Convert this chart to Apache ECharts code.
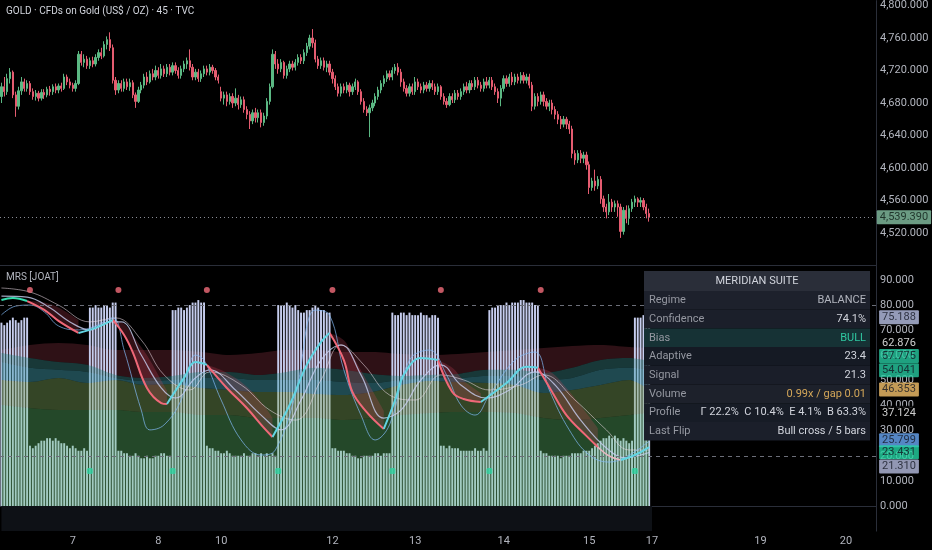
<!DOCTYPE html>
<html><head><meta charset="utf-8">
<script src="https://cdn.jsdelivr.net/npm/echarts@6/dist/echarts.min.js"></script>
<style>html,body{margin:0;padding:0;background:#000;}#c{width:932px;height:550px;}</style>
</head><body><div id="c"></div>
<script>
// ---------- DATA ----------
const titleText = 'GOLD · CFDs on Gold (US$ / OZ) · 45 · TVC';
const paneTitle = 'MRS [JOAT]';
const totalSlots = 307;
const dayLabels = ['7','8','10','12','13','14','15','17','19','20'];
const dayBars = [25,55,77,116,145,176,206,228,266,296];

// [open, close, low, high]
const candles = [
[4688,4700,4680,4705],[4700,4694,4688,4712],[4694,4710,4690,4716],[4710,4718,4704,4723],[4718,4690,4686,4720],
[4690,4676,4663,4694],[4676,4695,4672,4700],[4695,4706,4690,4712],[4706,4698,4694,4710],[4698,4704,4694,4708],
[4704,4694,4690,4707],[4694,4688,4684,4698],[4688,4692,4683,4696],[4692,4686,4682,4695],[4686,4693,4683,4697],
[4693,4690,4685,4697],[4690,4697,4687,4700],[4697,4694,4689,4701],[4694,4700,4690,4703],[4700,4696,4692,4704],
[4696,4701,4692,4704],[4701,4698,4694,4705],[4698,4712,4696,4716],[4712,4706,4702,4715],[4706,4702,4698,4710],
[4702,4698,4694,4705],[4698,4704,4694,4708],[4704,4740,4702,4744],[4740,4730,4726,4744],[4730,4734,4724,4740],
[4734,4726,4722,4738],[4726,4732,4722,4736],[4732,4728,4724,4737],[4728,4736,4725,4740],[4736,4742,4732,4746],
[4742,4738,4734,4748],[4738,4752,4736,4756],[4752,4758,4746,4762],[4758,4748,4744,4767],[4748,4708,4704,4752],
[4708,4696,4690,4712],[4696,4704,4692,4708],[4704,4698,4694,4708],[4698,4706,4694,4710],[4706,4700,4696,4710],
[4700,4705,4695,4710],[4705,4690,4686,4708],[4690,4682,4674,4693],[4682,4696,4680,4700],[4696,4702,4692,4706],
[4702,4712,4698,4716],[4712,4706,4702,4718],[4706,4716,4704,4720],[4716,4712,4708,4722],[4712,4720,4708,4726],
[4720,4714,4710,4724],[4714,4722,4710,4728],[4722,4716,4712,4726],[4716,4724,4712,4728],[4724,4718,4714,4728],
[4718,4726,4714,4730],[4726,4720,4716,4730],[4720,4714,4710,4724],[4714,4722,4710,4726],[4722,4728,4718,4732],
[4728,4732,4722,4736],[4732,4724,4720,4746],[4724,4712,4708,4728],[4712,4718,4708,4722],[4718,4710,4706,4722],
[4710,4716,4706,4720],[4716,4722,4712,4726],[4722,4718,4714,4726],[4718,4724,4714,4728],[4724,4720,4716,4727],
[4720,4712,4708,4723],[4712,4708,4704,4715],[4694,4686,4682,4700],[4686,4690,4678,4694],[4690,4682,4676,4694],
[4682,4688,4678,4692],[4688,4680,4674,4692],[4680,4686,4676,4698],[4686,4678,4672,4690],[4678,4684,4674,4688],
[4684,4672,4668,4688],[4672,4666,4660,4676],[4666,4658,4648,4670],[4658,4668,4654,4672],[4668,4662,4656,4674],
[4662,4668,4656,4672],[4668,4656,4650,4672],[4656,4664,4652,4668],[4664,4682,4660,4686],[4682,4700,4678,4704],
[4700,4740,4698,4746],[4740,4728,4722,4744],[4728,4722,4716,4734],[4722,4730,4718,4734],[4730,4714,4710,4732],
[4714,4722,4710,4726],[4722,4728,4718,4732],[4728,4724,4720,4732],[4724,4730,4720,4734],[4730,4736,4726,4740],
[4736,4732,4728,4740],[4732,4742,4728,4746],[4742,4750,4738,4754],[4750,4760,4746,4764],[4760,4754,4748,4771],
[4754,4734,4730,4758],[4734,4726,4722,4738],[4726,4732,4722,4736],[4732,4724,4720,4736],[4724,4728,4718,4732],
[4728,4718,4714,4732],[4718,4710,4704,4722],[4710,4700,4696,4714],[4700,4692,4688,4704],[4692,4700,4688,4704],
[4700,4696,4692,4704],[4696,4702,4692,4706],[4702,4694,4688,4705],[4694,4700,4690,4704],[4700,4706,4696,4710],
[4706,4694,4690,4708],[4694,4682,4678,4697],[4682,4672,4668,4686],[4672,4668,4664,4676],[4668,4674,4638,4678],
[4674,4680,4670,4684],[4680,4688,4676,4692],[4688,4696,4684,4700],[4696,4704,4692,4708],[4704,4710,4700,4714],
[4710,4716,4706,4720],[4716,4712,4708,4720],[4712,4720,4708,4724],[4720,4724,4716,4728],[4724,4718,4714,4729],
[4718,4706,4700,4722],[4706,4698,4694,4710],[4698,4692,4688,4702],[4692,4700,4688,4704],[4700,4694,4690,4704],
[4694,4706,4690,4712],[4706,4700,4696,4710],[4700,4696,4692,4704],[4696,4702,4692,4706],[4702,4698,4694,4706],
[4698,4704,4694,4708],[4704,4700,4696,4708],[4700,4694,4690,4704],[4694,4700,4690,4704],[4700,4688,4684,4702],
[4688,4682,4678,4692],[4682,4678,4674,4686],[4678,4688,4676,4692],[4688,4684,4680,4692],[4684,4692,4680,4696],
[4692,4688,4684,4696],[4688,4694,4684,4698],[4694,4700,4690,4704],[4700,4696,4692,4706],[4696,4704,4692,4708],
[4704,4700,4696,4708],[4700,4708,4696,4712],[4708,4702,4698,4712],[4702,4698,4694,4706],[4698,4706,4694,4710],
[4706,4702,4698,4712],[4702,4708,4698,4712],[4708,4700,4696,4712],[4700,4694,4690,4704],[4694,4686,4680,4698],
[4686,4698,4676,4702],[4698,4710,4694,4714],[4710,4704,4700,4714],[4704,4712,4700,4716],[4712,4706,4702,4718],
[4706,4712,4702,4716],[4712,4708,4704,4716],[4708,4714,4704,4718],[4714,4708,4704,4718],[4708,4712,4704,4716],
[4712,4702,4698,4716],[4702,4676,4670,4706],[4676,4688,4672,4692],[4688,4682,4676,4692],[4682,4690,4678,4694],
[4690,4682,4676,4694],[4682,4676,4672,4686],[4676,4680,4670,4684],[4680,4672,4666,4684],[4672,4666,4660,4676],
[4666,4660,4654,4670],[4660,4654,4648,4664],[4654,4660,4650,4664],[4660,4654,4648,4663],[4654,4648,4642,4658],
[4648,4618,4612,4652],[4618,4610,4604,4622],[4610,4618,4606,4622],[4618,4612,4606,4622],[4612,4616,4606,4620],
[4616,4604,4598,4620],[4604,4576,4568,4608],[4576,4584,4572,4588],[4584,4578,4572,4598],[4578,4586,4574,4590],
[4586,4562,4556,4590],[4562,4552,4546,4566],[4552,4546,4538,4556],[4546,4558,4542,4568],[4558,4552,4546,4562],
[4552,4556,4546,4560],[4556,4552,4540,4560],[4552,4522,4514,4556],[4522,4548,4518,4552],[4548,4538,4532,4554],
[4538,4550,4530,4554],[4550,4558,4546,4562],[4558,4562,4552,4566],[4562,4558,4552,4564],[4558,4560,4552,4564],
[4560,4552,4548,4563],[4552,4544,4538,4556],[4544,4539.39,4534,4550]
];
const lastPrice = 4539.39;

const histogram = [
73,72,73,74,75,74,73,74,75,75,
24,23,24,25,26,26,27,27,26,27,26,25,25,24,23,24,23,22,22,23,22,
79,79,80,79,79,80,80,79,81,81,
22,22,21,21,20,20,21,20,19,19,20,19,19,20,20,21,21,20,20,
78,78,79,79,78,79,80,81,81,82,81,81,
24,23,23,22,22,21,21,22,21,20,20,20,20,21,20,20,21,21,20,21,20,21,20,21,20,
80,80,80,81,80,79,80,78,77,77,78,78,79,80,79,78,78,77,77,
23,23,22,22,22,21,21,20,20,19,19,20,20,20,20,21,21,20,21,21,21,
77,76,76,77,77,76,77,76,76,76,77,76,76,75,76,76,75,
24,24,23,24,23,23,23,22,22,22,22,22,23,22,22,23,22,
78,79,79,80,80,80,81,80,81,81,81,82,82,81,81,81,80,80,
22,21,21,20,20,20,20,19,20,20,20,21,21,21,21,22,22,22,23,24,25,26,27,27,28,27,28,27,26,27,26,25,26,
75,75,75,76,75,75.188
];
// the oscillator pane's floor strip below zero spans the data bars
const floorStrip = [[0,-10],[228,-10]];

// band boundaries (value units) sampled at bar indices
const bandX  = [0,10,20,30,40,50,60,70,80,90,100,110,120,130,140,150,160,170,180,190,200,210,220,227];
const bandB1 = [40.2,39.0,38.2,38.2,38.2,37.4,37.4,36.2,36.2,35.0,35.0,35.0,34.2,35.0,36.2,37.0,37.4,37.4,37.0,35.0,34.2,35.0,36.2,37.124];
const bandB2 = [50.2,49.4,51.0,49.0,50.2,48.2,48.6,47.0,46.2,45.4,45.4,44.6,44.2,45.4,48.2,49.8,49.4,49.0,48.2,45.0,46.2,48.2,50.2,46.353];
const bandB3 = [57.3,55.0,54.2,53.4,51.0,49.8,50.2,51.0,51.0,50.2,50.2,50.2,49.4,49.0,50.2,51.0,51.0,51.8,51.8,50.2,51.0,54.2,55.0,54.041];
const bandB4 = [60.9,58.9,57.3,56.2,52.2,51.0,51.8,53.4,53.4,52.2,53.4,55.0,54.2,52.6,51.8,52.2,52.6,54.2,54.2,53.0,55.0,58.1,58.9,57.775];
const bandB5 = [62.1,64.1,64.9,64.1,62.1,62.1,62.1,61.3,60.1,60.9,62.1,62.1,61.3,61.3,60.5,60.1,60.5,61.3,62.1,62.9,63.7,64.1,63.3,62.876];

// adaptive line segments [barIndex, value]
const adaptiveBull = [
 [[0,82.0],[4,82.8],[9,81.6]],
 [[27,68.9],[33,70.9],[39,74.1]],
 [[58,40.6],[64,51.0],[68,57.3],[72,56.2]],
 [[95,27.5],[101,40.2],[107,56.2],[112,65.3],[115,68.9]],
 [[134,30.7],[138,42.2],[141,52.2],[147,58.9],[153,58.1]],
 [[168,41.4],[177,49.0],[184,55.4],[188,55.0]],
 [[217,18.3],[222,20.3],[227,23.431]]
];
const adaptiveBear = [
 [[9,81.6],[15,78.1],[20,73.7],[27,68.9]],
 [[39,74.1],[43,68.1],[46,61.3],[51,47.0],[56,41.0],[58,40.6]],
 [[72,56.2],[79,47.0],[86,39.0],[92,31.1],[95,27.5]],
 [[115,68.9],[120,58.1],[123,45.4],[128,37.4],[134,30.7]],
 [[153,58.1],[158,45.4],[162,42.6],[168,41.4]],
 [[188,55.0],[193,45.4],[198,36.2],[205,27.9],[209,23.5]]
];
// upper edge of the bearish cloud, at the same bars as adaptiveBear
const bearCloudTop = [
 [81.6,81.0,79.0,74.0],
 [74.1,72.5,68.0,60.0,50.0,46.0],
 [56.2,53.0,47.5,40.0,35.0],
 [68.9,66.0,60.0,50.0,38.0],
 [58.1,55.0,50.0,45.0],
 [55.0,53.0,47.0,37.0,31.0]
];
const adaptiveNeutral = [[[209,23.5],[213,19.9],[217,18.3]]];

const signalLine = [[0,83.6],[9,83.2],[17,78.9],[24,73.3],[31,70.1],[38,73.3],[42,73.3],[49,60.1],[56,47.0],[61,43.0],[68,51.0],[73,54.2],[82,46.2],[91,36.2],[98,30.3],[105,42.2],[112,58.1],[119,64.1],[126,52.2],[134,35.0],[140,38.2],[147,50.2],[154,56.2],[161,48.2],[170,43.0],[178,46.2],[187,53.4],[194,48.2],[203,34.2],[212,23.1],[219,19.1],[224,20.3],[227,21.31]];
const fastLine = [[0,76.1],[5,79.6],[10,80.0],[15,77.3],[20,71.7],[27,70.1],[33,71.7],[39,74.9],[43,62.1],[49,38.2],[52,30.3],[57,32.3],[63,42.2],[68,60.1],[71,58.1],[77,42.2],[84,26.3],[91,20.3],[96,22.3],[103,44.2],[110,78.0],[115,76.0],[120,54.2],[126,36.2],[131,26.3],[136,32.3],[143,58.1],[150,62.1],[156,52.2],[161,40.2],[166,36.2],[171,44.2],[180,58.1],[187,61.3],[192,46.2],[199,30.3],[206,20.3],[213,17.5],[220,20.3],[227,25.799]];
const slowLine = [[0,86.8],[10,85.2],[20,80.0],[31,73.3],[40,74.9],[49,66.1],[57,52.2],[66,46.2],[73,53.4],[84,48.2],[94,38.2],[103,34.2],[112,50.2],[119,64.1],[127,56.2],[136,44.2],[145,42.2],[154,52.2],[162,50.2],[171,46.2],[182,48.2],[190,52.2],[201,42.2],[212,30.3],[220,22.3],[227,22.3]];

const bearDots = [10,41,72,116,154,189];
const bearDotLevel = 86;
const bullDots = [31,60,97,137,171,222];
const bullDotLevel = 13.9;
const levelLines = [80, 20];

const lastValues = [75.188, 62.876, 57.775, 54.041, 46.353, 37.124, 25.799, 23.431, 21.310];

const tableTitle = 'MERIDIAN SUITE';
const tableLabels = ['Regime','Confidence','Bias','Adaptive','Signal','Volume','Profile','Last Flip'];
const tableValues = ['BALANCE','74.1%','BULL','23.4','21.3','0.99x / gap 0.01','Γ 22.2%  C 10.4%  E 4.1%  B 63.3%','Bull cross / 5 bars'];

// ---------- STYLES ----------
const UP = '#5bb883', DOWN = '#e55c70';
const tagStyles = [
 {bg:'#b9c2e6', fg:'#131722', dy:0},
 {bg:'#000000', fg:'#ffffff', dy:-5},
 {bg:'#27c9a0', fg:'#131722', dy:-5},
 {bg:'#27c9a0', fg:'#131722', dy:0},
 {bg:'#f5c26b', fg:'#131722', dy:0},
 {bg:'#000000', fg:'#ffffff', dy:0},
 {bg:'#6aa8f5', fg:'#131722', dy:-1},
 {bg:'#24d3a2', fg:'#131722', dy:5},
 {bg:'#b6bde0', fg:'#131722', dy:14}
];
const bandColors = ['rgba(100,200,115,0.36)','rgba(125,165,90,0.42)','rgba(68,159,175,0.46)','rgba(60,140,140,0.40)','rgba(135,50,65,0.34)'];
const bandZ = [3,3,3,3,1];
const rowFills = ['#1d212c','#1b1f2a','#163235','#151a24','#1a1e29','#1d212b','#171c26','#1b1f2a'];
const valueColors = ['#b2b5be','#d1d4dc','#2fc7a1','#d1d4dc','#d1d4dc','#d4a759','#d1d4dc','#d1d4dc'];

// ---------- BUILD ----------
const cats = Array.from({length: totalSlots}, (_, i) => String(i));
const FONT = 'Roboto, "Noto Sans", sans-serif';
const chart = echarts.init(document.getElementById('c'));
const L = {xAxisIndex:1, yAxisIndex:1, symbol:'none', silent:true};

const series = [];
series.push({
  type:'candlestick', xAxisIndex:0, yAxisIndex:0, data:candles, barWidth:'62%', silent:true,
  itemStyle:{color:UP, color0:DOWN, borderColor:UP, borderColor0:DOWN, borderWidth:1},
  markLine:{silent:true, symbol:['none','none'], label:{show:false},
    lineStyle:{type:[1,3], color:'#8a8d96', width:1}, data:[{yAxis:lastPrice}]}
});
series.push(Object.assign({}, L, {type:'line', data:floorStrip, z:1, lineStyle:{width:0},
  areaStyle:{color:'#0e1116', opacity:1}}));
series.push({
  type:'bar', xAxisIndex:1, yAxisIndex:1, data:histogram, barWidth:'68%', z:2, silent:true,
  itemStyle:{color:'#c6cdee'}
});
const bounds = [bandB1, bandB2, bandB3, bandB4, bandB5];
bounds.forEach((b, k) => {
  series.push(Object.assign({}, L, {
    type:'line', stack:'bands', smooth:0.3, z:bandZ[k],
    lineStyle:{width:0}, areaStyle:{color:bandColors[k], opacity:1},
    data: bandX.map((x, j) => [x, k === 0 ? b[j] : +(b[j] - bounds[k-1][j]).toFixed(3)])
  }));
});
// bearish clouds: invisible base on the adaptive line + filled thickness up to the cloud top
adaptiveBear.forEach((seg, k) => {
  const st = 'cloud' + k;
  series.push(Object.assign({}, L, {type:'line', stack:st, smooth:0.4, z:3, lineStyle:{width:0}, data:seg}));
  series.push(Object.assign({}, L, {type:'line', stack:st, smooth:0.4, z:3, lineStyle:{width:0},
    areaStyle:{color:'rgba(215,70,95,0.24)', opacity:1},
    data: seg.map((p, j) => [p[0], +(bearCloudTop[k][j] - p[1]).toFixed(3)])}));
});
series.push(Object.assign({}, L, {type:'line', data:slowLine, smooth:0.4, z:4,
  lineStyle:{color:'rgba(236,220,232,0.55)', width:1}}));
series.push(Object.assign({}, L, {type:'line', data:fastLine, smooth:0.4, z:4,
  lineStyle:{color:'rgba(130,185,245,0.7)', width:1}}));
series.push(Object.assign({}, L, {type:'line', data:signalLine, smooth:0.4, z:4,
  lineStyle:{color:'rgba(200,206,240,0.8)', width:1.2},
  markLine:{silent:true, symbol:['none','none'], label:{show:false},
    lineStyle:{type:[4,4], color:'#6b6e78', width:1}, data: levelLines.map(v => ({yAxis:v}))}}));
adaptiveBear.forEach(seg => series.push(Object.assign({}, L, {type:'line', data:seg, smooth:0.4, z:5,
  lineStyle:{color:'#f06878', width:2}})));
adaptiveNeutral.forEach(seg => series.push(Object.assign({}, L, {type:'line', data:seg, smooth:0.4, z:5,
  lineStyle:{color:'#e8b7c2', width:1.6}})));
adaptiveBull.forEach((seg, k) => series.push(Object.assign({}, L, {type:'line', data:seg, smooth:0.4, z:5,
  lineStyle:{color: k === 0 ? '#35dcae' : '#62d4e2', width:2}})));
series.push({type:'scatter', xAxisIndex:1, yAxisIndex:1, symbol:'circle', symbolSize:6, z:6, silent:true,
  itemStyle:{color:'#f26d7a'}, data: bearDots.map(i => [i, bearDotLevel])});
series.push({type:'scatter', xAxisIndex:1, yAxisIndex:1, symbol:'roundRect', symbolSize:6, z:6, silent:true,
  itemStyle:{color:'#2ed3a0'}, data: bullDots.map(i => [i, bullDotLevel])});
// right-axis value tags
series.push({type:'scatter', xAxisIndex:2, yAxisIndex:2, symbolSize:1, z:10, silent:true, itemStyle:{color:'rgba(0,0,0,0)'},
  data: lastValues.map((v, k) => ({value:[0.4, v], label:{show:true, position:'inside', formatter: v.toFixed(3),
    backgroundColor: tagStyles[k].bg, color: tagStyles[k].fg, offset:[0, tagStyles[k].dy], padding:[2,3,1,3],
    fontSize:11, fontFamily:FONT, borderRadius:1}}))});
series.push({type:'scatter', xAxisIndex:3, yAxisIndex:3, symbolSize:1, z:10, silent:true, itemStyle:{color:'rgba(0,0,0,0)'},
  data: [{value:[0.49, lastPrice], label:{show:true, position:'inside',
    formatter: lastPrice.toLocaleString('en-US',{minimumFractionDigits:3, maximumFractionDigits:3}),
    backgroundColor:'#86c2a4', color:'#0d1a14', padding:[2,3,1,3], fontSize:11, fontFamily:FONT, borderRadius:1}}]});

// table graphics
const TX = 644, TY = 271, TW = 226, HH = 20, RH = 18.7;
const g = [];
g.push({type:'rect', shape:{x:TX, y:TY, width:TW, height:HH}, style:{fill:'#2a2e39'}, z:100});
g.push({type:'text', x:TX + TW/2, y:TY + HH/2, style:{text:tableTitle, fill:'#d1d4dc', font:'11px '+FONT, align:'center', verticalAlign:'middle'}, z:101});
tableLabels.forEach((lab, k) => {
  const y = TY + HH + k*RH;
  g.push({type:'rect', shape:{x:TX, y:y, width:TW, height:RH}, style:{fill:rowFills[k]}, z:100});
  g.push({type:'text', x:TX + 5, y:y + RH/2, style:{text:lab, fill:'#9598a1', font:'11px '+FONT, align:'left', verticalAlign:'middle'}, z:101});
  g.push({type:'text', x:TX + TW - 4, y:y + RH/2, style:{text:tableValues[k], fill:valueColors[k], font:'11px '+FONT, align:'right', verticalAlign:'middle'}, z:101});
});
g.push({type:'text', x:6, y:6, style:{text:titleText, fill:'#d1d4dc', font:'10px '+FONT}, z:100});
g.push({type:'text', x:6, y:272, style:{text:paneTitle, fill:'#b2b5be', font:'10px '+FONT}, z:100});

const fmtPrice = v => (v % 40 === 0 && v > 4480 && v <= 4800) ? v.toLocaleString('en-US',{minimumFractionDigits:3, maximumFractionDigits:3}) : '';
const fmtOsc = v => (v % 10 === 0 && v >= 0 && v <= 90) ? v.toFixed(3) : '';

chart.setOption({
  backgroundColor:'#000000', animation:false,
  textStyle:{fontFamily:FONT},
  grid:[
    {left:0, right:56, top:0, height:265.5},
    {left:0, right:56, top:264.9, height:266.2},
    {left:877, right:0, top:264.9, height:266.2},
    {left:877, right:0, top:0, height:265.5}
  ],
  xAxis:[
    {type:'category', gridIndex:0, data:cats, axisLine:{show:true, lineStyle:{color:'#2a2e39'}}, axisTick:{show:false}, axisLabel:{show:false}, splitLine:{show:false}},
    {type:'category', gridIndex:1, data:cats, axisLine:{show:true, lineStyle:{color:'#2a2e39'}}, axisTick:{show:false}, splitLine:{show:false},
      axisLabel:{color:'#b2b5be', fontSize:11, margin:5, interval:(i) => dayBars.indexOf(i) >= 0,
        formatter:(v) => { const k = dayBars.indexOf(+v); return k >= 0 ? dayLabels[k] : ''; }}},
    {type:'value', gridIndex:2, min:0, max:1, show:false},
    {type:'value', gridIndex:3, min:0, max:1, show:false}
  ],
  yAxis:[
    {type:'value', gridIndex:0, position:'right', min:4480, max:4806, interval:40, splitLine:{show:false}, axisTick:{show:false},
      axisLine:{show:true, lineStyle:{color:'#2a2e39'}}, axisLabel:{color:'#b2b5be', fontSize:11, margin:4, formatter:fmtPrice}},
    {type:'value', gridIndex:1, position:'right', min:-10, max:96, interval:10, splitLine:{show:false}, axisTick:{show:false},
      axisLine:{show:true, lineStyle:{color:'#2a2e39'}}, axisLabel:{color:'#b2b5be', fontSize:11, margin:4, formatter:fmtOsc}},
    {type:'value', gridIndex:2, min:-10, max:96, show:false},
    {type:'value', gridIndex:3, min:4480, max:4806, show:false}
  ],
  series: series,
  graphic: g
});
</script></body></html>
